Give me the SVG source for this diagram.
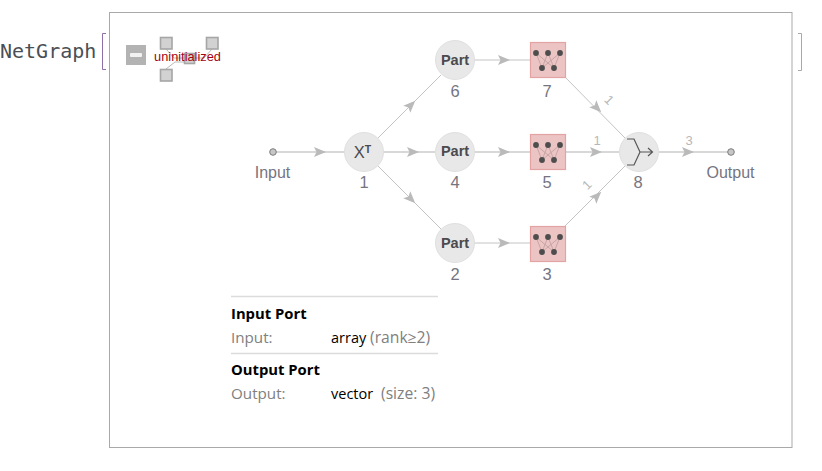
<svg xmlns="http://www.w3.org/2000/svg" width="822" height="471" viewBox="0 0 822 471">
  <style>
    text { font-family: "Liberation Sans", Arial, sans-serif; }
    .edge { stroke: #c4c4c4; stroke-width: 1; fill: none; }
    .thick { stroke: #cbcbcb; stroke-width: 1.5; fill: none; }
    .head { fill: #bababa; stroke: none; }
    .circle { fill: #e8e8e8; stroke: #e0e0e0; stroke-width: 1; }
    .box { fill: #ecc4c4; stroke: #e3a3a3; stroke-width: 1.2; }
    .idx { font-size: 16.500px; fill: #75757f; text-anchor: middle; }
    .part { font-size: 14.500px; font-weight: bold; fill: #4a4a4f; text-anchor: middle; }
    .port { fill: #c6c6c6; stroke: #7d7d7d; stroke-width: 1; }
    .portlabel { font-size: 16px; fill: #75757f; text-anchor: middle; }
    .dim { font-size: 13px; fill: #b8b8b8; text-anchor: middle; }
    .d { fill: #4d4d4d; }
    .w { stroke: #b89a9a; stroke-width: 0.7; fill: none; }
    .sq { fill: #d2d2d2; stroke: #a6a6a6; stroke-width: 1.6; }
    .rule { stroke: #dcdcdc; stroke-width: 1.4; }
    .h { font-family: "Open Sans", "Noto Sans", sans-serif; font-size: 14.800px; font-weight: bold; fill: #000; }
    .k { font-family: "Open Sans", "Noto Sans", sans-serif; font-size: 15.200px; fill: #808080; }
    .v { font-family: "Open Sans", "Noto Sans", sans-serif; font-size: 14.500px; fill: #000; }
    .t { font-family: "Open Sans", "Noto Sans", sans-serif; font-size: 15.700px; fill: #808080; }
  </style>
  <defs>
    <symbol id="net" viewBox="0 0 36 36" width="36" height="36">
      <path class="w" d="M6 11 L12 26 M6 11 L24 26 M18 11 L12 26 M18 11 L24 26 M30 11 L12 26 M30 11 L24 26"/>
      <g class="d">
        <circle cx="6" cy="11" r="2.900"/><circle cx="18" cy="11" r="2.900"/><circle cx="30" cy="11" r="2.900"/>
        <circle cx="12" cy="26" r="2.900"/><circle cx="24" cy="26" r="2.900"/>
      </g>
    </symbol>
    <path id="ah" class="head" d="M-6 -5 L6 0 L-6 5 L-3.500 0 Z"/>
  </defs>

  <rect x="109.500" y="12.500" width="682.500" height="435" fill="#fff" stroke="#a9a9a9" stroke-width="1"/>

  <text x="0" y="58" font-size="20" fill="#4a4f55" style="font-family:'DejaVu Sans Mono','Liberation Mono',monospace">NetGraph</text>
  <path d="M106 33.500 H102.500 V69.500 H106" fill="none" stroke="#8f6fa8" stroke-width="1"/>
  <path d="M798 33.500 H801.500 V70.500 H798" fill="none" stroke="#a9a9a9" stroke-width="1"/>

  <g id="icon">
    <rect x="126" y="45" width="20" height="20" fill="#b3b3b3"/>
    <rect x="130" y="53" width="12" height="4" rx="1" fill="#f2f2f2"/>
    <path d="M166 49 L174 58 H184 M212 49 L204 58 H195 M166 69 L175 62 H184" fill="none" stroke="#b9b9b9" stroke-width="1"/>
    <rect class="sq" x="160.500" y="37.500" width="11.500" height="11.500"/>
    <rect class="sq" x="206.500" y="37.500" width="11.500" height="11.500"/>
    <rect class="sq" x="184.500" y="53.500" width="10" height="10"/>
    <rect class="sq" x="160.500" y="69.500" width="11.500" height="11.500"/>
    <text x="187.500" y="61" font-size="12.800" fill="#a8000f" text-anchor="middle">uninitialized</text>
  </g>

  <g id="connectors">
    <path class="thick" d="M276 152 H345 M383 152 H436 M474 152 H530 M565 152 H620 M658 152 H728"/>
    <path class="edge" d="M474 60 H530 M474 243 H530"/>
    <path class="edge" d="M378 138 L441 75 M378 166 L441 229"/>
    <path class="edge" d="M566 78 L625 138 M565 226 L625 166"/>
    <use href="#ah" transform="translate(320,152)"/>
    <use href="#ah" transform="translate(413,152)"/>
    <use href="#ah" transform="translate(504,152)"/>
    <use href="#ah" transform="translate(596,152)"/>
    <use href="#ah" transform="translate(688,152)"/>
    <use href="#ah" transform="translate(504,60)"/>
    <use href="#ah" transform="translate(504,243)"/>
    <use href="#ah" transform="translate(411,105) rotate(-45)"/>
    <use href="#ah" transform="translate(411,199) rotate(45)"/>
    <use href="#ah" transform="translate(597,108) rotate(45)"/>
    <use href="#ah" transform="translate(597,196) rotate(-45)"/>
    <text class="dim" x="597" y="145">1</text>
    <text class="dim" x="689" y="145">3</text>
    <text class="dim" transform="translate(606,103) rotate(45)">1</text>
    <text class="dim" transform="translate(590,188) rotate(-45)">1</text>
  </g>

  <g id="input">
    <circle class="port" cx="273" cy="152" r="3.300"/>
    <text class="portlabel" x="272.500" y="178">Input</text>
  </g>
  <g id="output">
    <circle class="port" cx="731" cy="152" r="3.300"/>
    <text class="portlabel" x="730.500" y="178">Output</text>
  </g>

  <g id="node1">
    <circle class="circle" cx="364" cy="152" r="19.500"/>
    <text x="362.500" y="158" font-size="16.500" fill="#4a4a4f" text-anchor="middle">X<tspan font-size="10.500" font-weight="bold" dy="-5">T</tspan></text>
    <text class="idx" x="364" y="188">1</text>
  </g>
  <g id="node6">
    <circle class="circle" cx="455" cy="60" r="19.500"/>
    <text class="part" x="455" y="64.500">Part</text>
    <text class="idx" x="455" y="97">6</text>
  </g>
  <g id="node4">
    <circle class="circle" cx="455" cy="152" r="19.500"/>
    <text class="part" x="455" y="156">Part</text>
    <text class="idx" x="455" y="188">4</text>
  </g>
  <g id="node2">
    <circle class="circle" cx="455" cy="243" r="19.500"/>
    <text class="part" x="455" y="247.500">Part</text>
    <text class="idx" x="455" y="280">2</text>
  </g>
  <g id="node7">
    <rect class="box" x="530.500" y="42.500" width="35" height="35"/>
    <use href="#net" x="530" y="42"/>
    <text class="idx" x="547" y="97">7</text>
  </g>
  <g id="node5">
    <rect class="box" x="530.500" y="134.500" width="35" height="35"/>
    <use href="#net" x="530" y="134"/>
    <text class="idx" x="547" y="188">5</text>
  </g>
  <g id="node3">
    <rect class="box" x="530.500" y="226.500" width="35" height="35"/>
    <use href="#net" x="530" y="226"/>
    <text class="idx" x="547" y="280">3</text>
  </g>
  <g id="node8">
    <circle class="circle" cx="639" cy="152" r="19.500"/>
    <path d="M627 139 H634 L640 152 L634 165 H627 M640 152 H652 M648 148 L652.500 152 L648 156" fill="none" stroke="#555" stroke-width="1.200"/>
    <text class="idx" x="638" y="188">8</text>
  </g>

  <g id="ports">
    <line class="rule" x1="231" y1="296.500" x2="438" y2="296.500"/>
    <text class="h" x="231" y="319">Input Port</text>
    <text class="k" x="231" y="343">Input:</text>
    <text class="v" x="331" y="343">array</text>
    <text class="t" x="370" y="343">(rank≥2)</text>
    <line class="rule" x1="231" y1="353.500" x2="438" y2="353.500"/>
    <text class="h" x="231" y="375">Output Port</text>
    <text class="k" x="231" y="399">Output:</text>
    <text class="v" x="331" y="399">vector</text>
    <text class="t" x="381" y="399">(size: 3)</text>
  </g>
</svg>
